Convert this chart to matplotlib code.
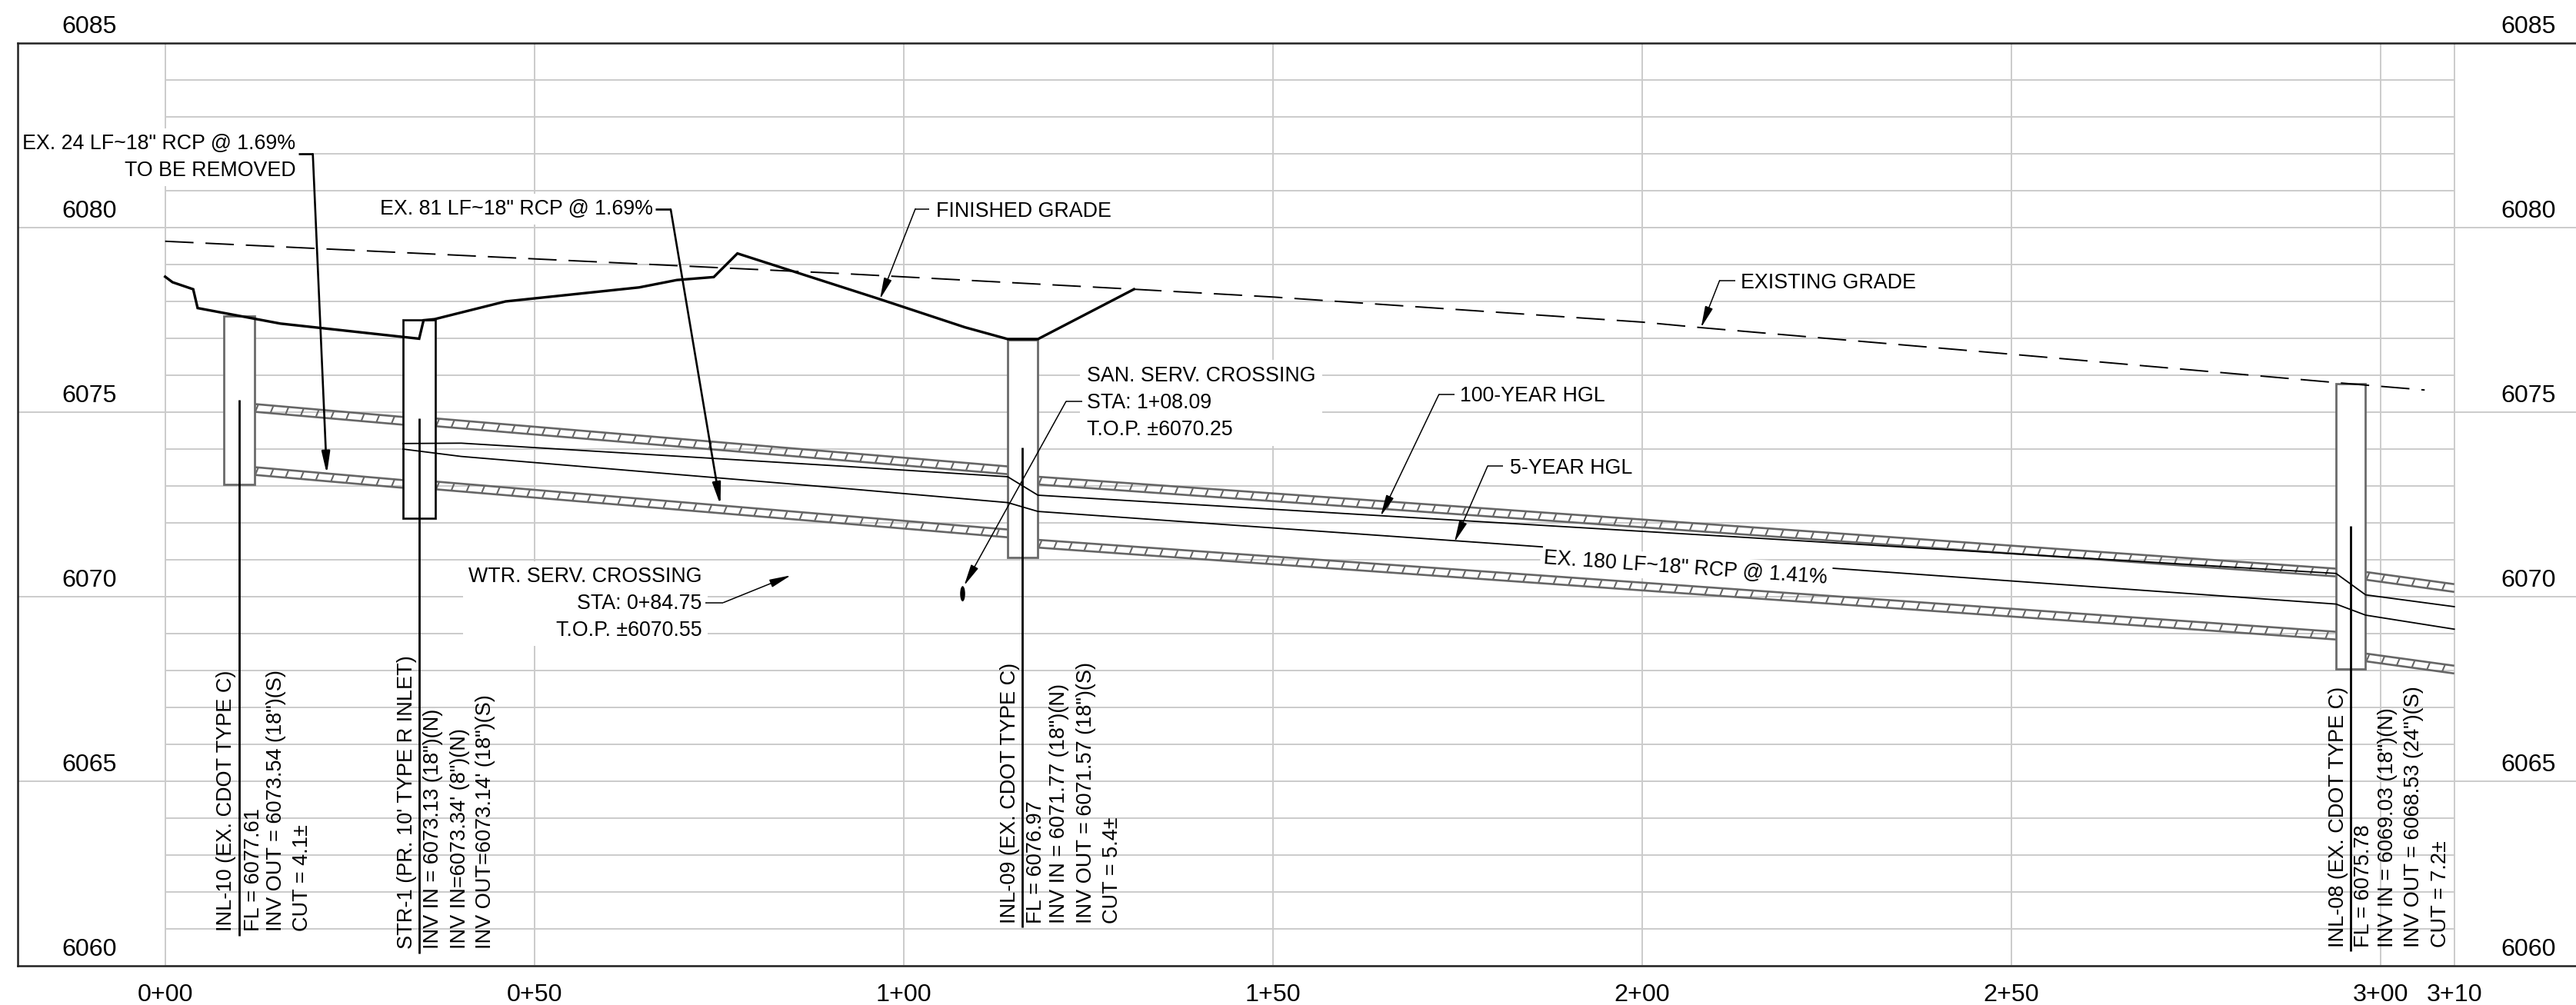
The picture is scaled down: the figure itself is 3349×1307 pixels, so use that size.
import numpy as np
import matplotlib
matplotlib.use('Agg')
import matplotlib.pyplot as plt
from matplotlib.patches import Ellipse, Rectangle
from matplotlib.collections import LineCollection

plt.rcParams['font.family'] = ['Liberation Sans', 'DejaVu Sans']

# stations (ft) and elevations (ft)
station_ticks = [0, 50, 100, 150, 200, 250, 300, 310]
station_labels = ['0+00', '0+50', '1+00', '1+50', '2+00', '2+50', '3+00', '3+10']
elev_ticks = [6060, 6065, 6070, 6075, 6080, 6085]

finished_sta = [0, 1.0, 3.8, 4.4, 15.6, 34.4, 35.0, 36.5, 46.1, 64.2, 69.3, 74.3, 77.5, 96.8, 108.3, 114.1, 118.2, 131.2]
finished_elv = [6078.67, 6078.52, 6078.33, 6077.82, 6077.4, 6076.99, 6077.49, 6077.52, 6078.0, 6078.38, 6078.58,
                6078.66, 6079.3, 6078.06, 6077.3, 6076.98, 6076.98, 6078.33]

existing_sta = [0, 92.2, 131.2, 150, 200, 208, 250, 294, 306]
existing_elv = [6079.63, 6078.75, 6078.33, 6078.12, 6077.44, 6077.29, 6076.57, 6075.8, 6075.6]

hgl100_sta = [32.2, 40.1, 92.2, 114.1, 118.2, 206.8, 212, 294, 298, 310]
hgl100_elv = [6074.15, 6074.16, 6073.53, 6073.25, 6072.75, 6071.69, 6071.63, 6070.63, 6070.05, 6069.73]

hgl5_sta = [32.2, 40.1, 92.2, 114.1, 118.2, 186.5, 225.9, 294, 298, 310]
hgl5_elv = [6074.0, 6073.8, 6072.93, 6072.55, 6072.31, 6071.35, 6070.77, 6069.8, 6069.5, 6069.12]

# pipe runs: start sta, end sta, invert at start, invert at end, inside height
pipe_sta0 = [12.1, 36.6, 118.2, 298.0]
pipe_sta1 = [32.2, 114.1, 294.0, 310.0]
pipe_inv0 = [6073.51, 6073.12, 6071.54, 6068.46]
pipe_inv1 = [6073.16, 6071.82, 6069.05, 6068.13]
pipe_dia = [1.5, 1.5, 1.5, 2.0]
wall = 0.21

# structures: left sta, right sta, bottom, top, colour
struct_sta0 = [8.0, 32.2, 114.1, 294.0]
struct_sta1 = [12.1, 36.6, 118.2, 298.0]
struct_bot = [6073.04, 6072.13, 6071.07, 6068.04]
struct_top = [6077.61, 6077.5, 6076.96, 6075.78]
struct_col = ['#6a6a6a', '#111111', '#6a6a6a', '#6a6a6a']

# vertical callout lines
callout_sta = [10.0, 34.4, 116.1, 296.0]
callout_top = [6075.34, 6074.83, 6074.05, 6071.92]
callout_bot = [6060.81, 6060.33, 6061.04, 6060.4]

inl10_text = ['INL-10 (EX. CDOT TYPE C)', 'FL = 6077.61', 'INV OUT = 6073.54 (18")(S)', 'CUT = 4.1±']
inl10_sta = [9.0, 12.7, 15.8, 19.3]
str1_text = ["STR-1 (PR. 10' TYPE R INLET)", 'INV IN = 6073.13 (18")(N)', 'INV IN=6073.34\' (8")(N)', 'INV OUT=6073.14\' (18")(S)']
str1_sta = [33.5, 37.0, 40.7, 44.1]
inl09_text = ['INL-09 (EX. CDOT TYPE C)', 'FL = 6076.97', 'INV IN = 6071.77 (18")(N)', 'INV OUT = 6071.57 (18")(S)', 'CUT = 5.4±']
inl09_sta = [115.1, 118.7, 121.8, 125.4, 129.0]
inl08_text = ['INL-08 (EX. CDOT TYPE C)', 'FL = 6075.78', 'INV IN = 6069.03 (18")(N)', 'INV OUT = 6068.53 (24")(S)', 'CUT = 7.2±']
inl08_sta = [295.0, 298.5, 301.7, 305.2, 308.9]

GRID = '#cbcbcb'
GREY = '#666666'

fig = plt.figure(figsize=(33.49, 13.07), dpi=100)
ax = fig.add_axes([22.5 / 3349, 1 - 1256 / 1307, 1 - 22.5 / 3349, (1256 - 56) / 1307])
ax.set_xlim(-20.02, 326.49)
ax.set_ylim(6060, 6085)

for side in ['left', 'top', 'bottom']:
    ax.spines[side].set_linewidth(1.8)
    ax.spines[side].set_color('#222222')
    ax.spines[side].set_zorder(9)
ax.spines['right'].set_visible(False)

ax.set_xticks(station_ticks)
ax.set_xticklabels(station_labels, fontsize=23.2)
ax.set_yticks([])
ax.tick_params(axis='x', length=0, pad=16.5)

# grid: 1 ft lines only across the profile, 5 ft lines run the full width
ax.vlines(station_ticks, 6060, 6085, color=GRID, lw=1.4, zorder=1)
ax.hlines(np.arange(6060, 6085), 0, 310, color=GRID, lw=1.4, zorder=1)
ax.hlines(elev_ticks[1:-1], -20.02, 326.49, color=GRID, lw=1.4, zorder=1)

for e in elev_ticks:
    ax.text(-10.3, e + 0.44, str(e), fontsize=23.2, ha='center', va='center', zorder=6)
    ax.text(320, e + 0.44, str(e), fontsize=23.2, ha='center', va='center', zorder=6)

# pipes, walls with slanted ticks
for s0, s1, i0, i1, d in zip(pipe_sta0, pipe_sta1, pipe_inv0, pipe_inv1, pipe_dia):
    slope = (i1 - i0) / (s1 - s0)
    for low in [i0 - wall, i0 + d]:
        ax.plot([s0, s1], [low, low + slope * (s1 - s0)], color=GREY, lw=1.9, zorder=3, solid_capstyle='butt')
        ax.plot([s0, s1], [low + wall, low + wall + slope * (s1 - s0)], color=GREY, lw=1.9, zorder=3, solid_capstyle='butt')
        segs = []
        for s in np.arange(s0 + 0.1, s1 - 0.4, 2.05):
            y0 = low + slope * (s - s0)
            y1 = low + wall + slope * (s + 0.42 - s0)
            segs.append([(s, y0), (s + 0.42, y1)])
        ax.add_collection(LineCollection(segs, colors=GREY, linewidths=1.5, zorder=3))

# structures
for s0, s1, b, t, c in zip(struct_sta0, struct_sta1, struct_bot, struct_top, struct_col):
    ax.add_patch(Rectangle((s0, b), s1 - s0, t - b, fc='white', ec=c, lw=2.0, zorder=4))

for s, t, b in zip(callout_sta, callout_top, callout_bot):
    ax.plot([s, s], [b, t], color='black', lw=2.0, zorder=7, solid_capstyle='butt')

# profile lines
ax.plot(existing_sta, existing_elv, color='black', lw=1.4, dashes=(19, 8), zorder=5)
ax.plot(finished_sta, finished_elv, color='black', lw=2.4, zorder=6, solid_joinstyle='miter')
ax.plot(hgl100_sta, hgl100_elv, color='black', lw=1.3, zorder=6)
ax.plot(hgl5_sta[:6], hgl5_elv[:6], color='black', lw=1.3, zorder=6)
ax.plot(hgl5_sta[6:], hgl5_elv[6:], color='black', lw=1.3, zorder=6)


def leader(xs, ys, lw=1.1, hl=17, hw=3.2):
    # elbow up to the last leg, then arrow on the last leg
    ax.plot(xs[:-1], ys[:-1], color='black', lw=lw, zorder=8, solid_capstyle='butt')
    ax.annotate('', xy=(xs[-1], ys[-1]), xytext=(xs[-2], ys[-2]), zorder=8,
                arrowprops=dict(arrowstyle='-|>,head_length=%g,head_width=%g' % (hl, hw), mutation_scale=1,
                                shrinkA=0, shrinkB=0, lw=lw, color='black'))


white = dict(fc='white', ec='none', pad=5)
FS = 19.3

ax.text(17.7, 6081.9, 'EX. 24 LF~18" RCP @ 1.69%\nTO BE REMOVED', fontsize=FS, ha='right', va='center',
        multialignment='right', linespacing=1.45, bbox=white, zorder=5)
leader([18.05, 20.0, 21.9], [6081.99, 6081.99, 6073.32], lw=1.9)

ax.text(66.05, 6080.5, 'EX. 81 LF~18" RCP @ 1.69%', fontsize=FS, ha='right', va='center', bbox=white, zorder=5)
leader([66.4, 68.47, 75.2], [6080.49, 6080.49, 6072.48], lw=1.9)

ax.text(104.4, 6080.44, 'FINISHED GRADE', fontsize=FS, ha='left', va='center', zorder=5)
leader([103.5, 101.6, 96.8], [6080.51, 6080.51, 6078.06])

ax.text(72.7, 6069.81, 'WTR. SERV. CROSSING\nSTA: 0+84.75\nT.O.P. ±6070.55', fontsize=FS, ha='right', va='center',
        multialignment='right', linespacing=1.45, bbox=white, zorder=5)
leader([73.2, 75.6, 84.75], [6069.84, 6069.84, 6070.58])

ax.text(124.8, 6075.25, 'SAN. SERV. CROSSING\nSTA: 1+08.09\nT.O.P. ±6070.25', fontsize=FS, ha='left', va='center',
        multialignment='left', linespacing=1.45, bbox=dict(fc='white', ec='none', pad=6), zorder=5)
leader([124.25, 122.0, 108.2], [6075.29, 6075.29, 6070.3])
ax.add_patch(Ellipse((108.0, 6070.08), 0.68, 0.416, fc='black', ec='none', zorder=8))

ax.text(175.3, 6075.43, '100-YEAR HGL', fontsize=FS, ha='left', va='center', zorder=5)
leader([174.6, 172.5, 164.6], [6075.48, 6075.48, 6072.18])

ax.text(182.1, 6073.48, '5-YEAR HGL', fontsize=FS, ha='left', va='center', zorder=5)
leader([181.2, 179.1, 174.6], [6073.54, 6073.54, 6071.48])

ax.text(213.4, 6078.51, 'EXISTING GRADE', fontsize=FS, ha='left', va='center', zorder=5)
leader([212.6, 210.5, 208.0], [6078.56, 6078.56, 6077.29])

ax.text(205.9, 6070.78, 'EX. 180 LF~18" RCP @ 1.41%', fontsize=FS, ha='center', va='center', rotation=-4,
        rotation_mode='anchor', bbox=dict(fc='white', ec='none', pad=3), zorder=5)

# rotated structure notes, baseline along the station
for texts, stas, start in [(inl10_text, inl10_sta, 6060.94), (str1_text, str1_sta, 6060.46),
                           (inl09_text, inl09_sta, 6061.15), (inl08_text, inl08_sta, 6060.51)]:
    for t, s in zip(texts, stas):
        ax.text(s, start, t, fontsize=19.5, rotation=90, rotation_mode='anchor', ha='left', va='baseline', zorder=7)

fig.savefig('out.png', dpi=100)
